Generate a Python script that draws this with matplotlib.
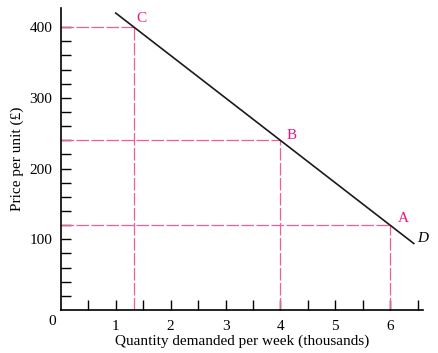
import numpy as np
import matplotlib.pyplot as plt

plt.rcParams['font.family'] = ['Liberation Serif', 'DejaVu Serif']

# demand curve end points
line_q = [1.0, 6.43]
line_p = [420, 94]

# marked points
point_names = ['C', 'B', 'A']
point_q = [1.33, 4.0, 6.0]
point_p = [400, 240, 120]

x_ticks = [1, 2, 3, 4, 5, 6]
y_ticks = [100, 200, 300, 400]

pink = '#ec5f98'
magenta = '#e3177f'

fig = plt.figure(figsize=(4.38, 3.53), dpi=100)
ax = fig.add_axes([0.139, 0.122, 0.827, 0.855])

# guide lines
for q, p in zip(point_q, point_p):
    ax.plot([0, q], [p, p], color=pink, lw=0.9, dashes=(10, 2))
    ax.plot([q, q], [0, p], color=pink, lw=0.9, dashes=(10, 2))

ax.plot(line_q, line_p, color='#1a1a1a', lw=1.2)

fs = 11
offsets = {'C': (0.13, 13), 'B': (0.2, 7), 'A': (0.24, 10)}
for name, q, p in zip(point_names, point_q, point_p):
    dx, dy = offsets[name]
    ax.text(q + dx, p + dy, name, color=magenta, fontsize=fs,
            ha='center', va='center')
ax.text(line_q[1] + 0.17, line_p[1] + 7, 'D', fontsize=fs, style='italic',
        ha='center', va='center')

ax.set_xlim(0, 6.6)
ax.set_ylim(0, 427)
ax.set_xticks(x_ticks)
ax.set_yticks(y_ticks)
ax.set_xticks(np.arange(0.5, 6.6, 0.5), minor=True)
ax.set_yticks(np.arange(20, 420, 20), minor=True)
ax.tick_params(which='both', direction='in', length=7, width=1, labelsize=fs,
               pad=6)
ax.tick_params(axis='x', which='major', pad=7)
for s in ['top', 'right']:
    ax.spines[s].set_visible(False)
for s in ['left', 'bottom']:
    ax.spines[s].set_linewidth(1.2)

ax.text(-0.15, -17, '0', fontsize=fs, ha='center', va='center')
ax.set_xlabel('Quantity demanded per week (thousands)', fontsize=fs, labelpad=1)
ax.set_ylabel('Price per unit (£)', fontsize=fs, labelpad=4)

fig.savefig('out.png', dpi=100)
